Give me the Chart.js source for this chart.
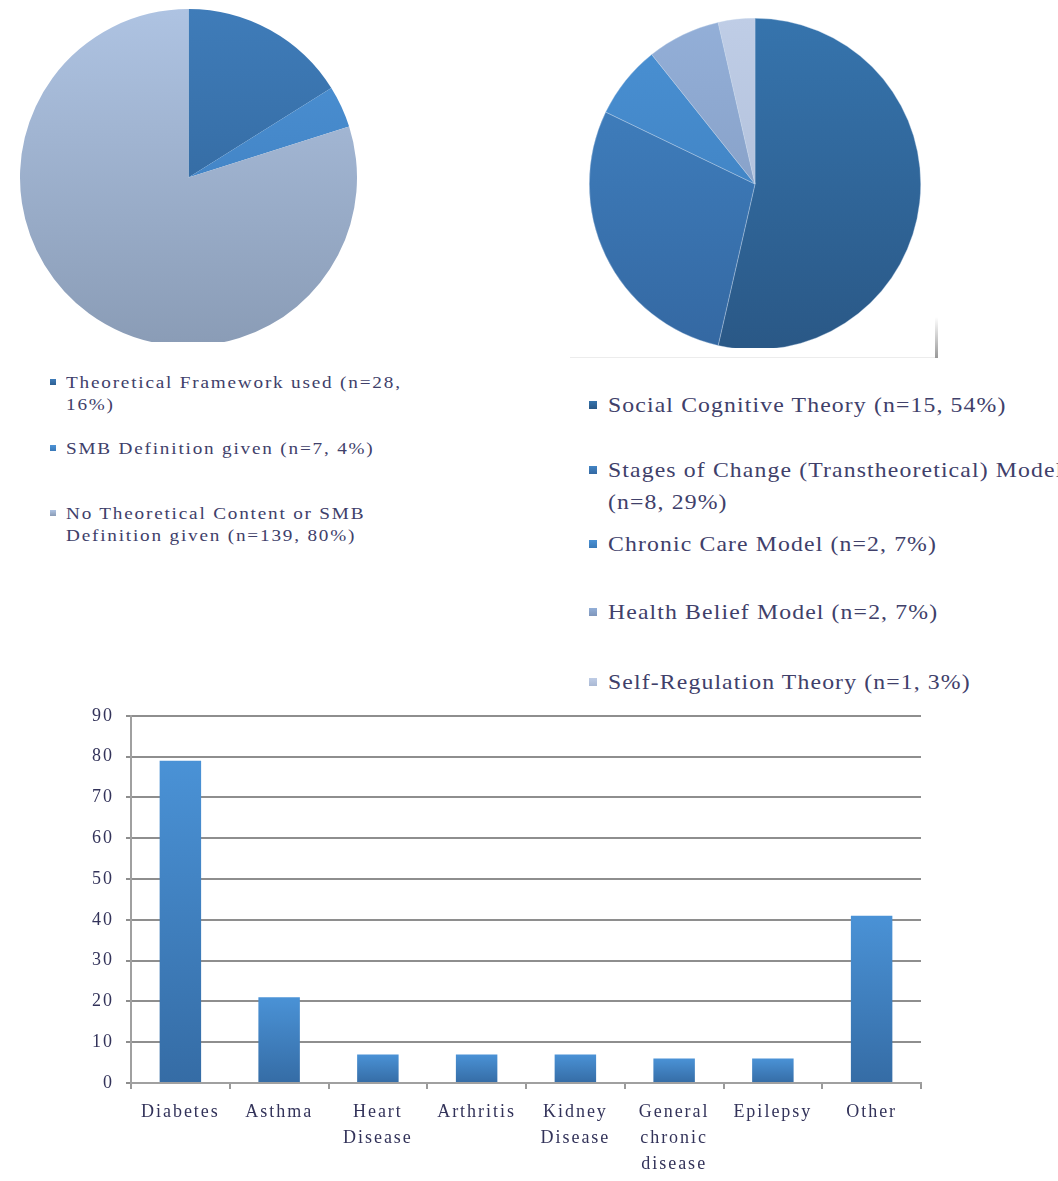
<!DOCTYPE html>
<html>
<head>
<meta charset="utf-8">
<script src="https://cdn.jsdelivr.net/npm/chart.js@4.4.1/dist/chart.umd.min.js"></script>
<style>
  html, body { margin: 0; padding: 0; background: #fff; width: 1058px; height: 1181px; overflow: hidden; }
  .box { position: absolute; }
  .legend { position: absolute; font-family: "Liberation Serif", "Times New Roman", serif; color: #40406a; }
  .legend .item { position: absolute; white-space: nowrap; transform-origin: left center; }
  .legend .sw { position: absolute; left: 0; }
  .edge { position: absolute; left: 935px; top: 317px; width: 3px; height: 41px; background: linear-gradient(to bottom, #fff, #999); }
  .edge2 { position: absolute; left: 570px; top: 357px; width: 367px; height: 1px; background: #ececec; }
</style>
</head>
<body>
<div class="box" style="left:20px;top:9px;width:337px;height:333px;overflow:hidden"><canvas id="pie1"></canvas></div>
<div class="box" style="left:589px;top:18px;width:332px;height:330px;overflow:hidden"><canvas id="pie2"></canvas></div>
<div class="edge2"></div>
<div class="edge"></div>
<div class="legend" id="legend1" style="left:50px;top:0"></div>
<div class="legend" id="legend2" style="left:589px;top:0"></div>
<div class="box" style="left:0;top:693px;width:1058px;height:488px"><canvas id="bars"></canvas></div>
<script>
// pie 1: theoretical content of studies
var pie1Labels = ['Theoretical Framework used (n=28, 16%)', 'SMB Definition given (n=7, 4%)', 'No Theoretical Content or SMB Definition given (n=139, 80%)'];
var pie1Values = [28, 7, 139];
var pie1Lines = [['Theoretical Framework used (n=28,', '16%)'], ['SMB Definition given (n=7, 4%)'], ['No Theoretical Content or SMB', 'Definition given (n=139, 80%)']];

// pie 2: theories used
var pie2Labels = ['Social Cognitive Theory (n=15, 54%)', 'Stages of Change (Transtheoretical) Model (n=8, 29%)', 'Chronic Care Model (n=2, 7%)', 'Health Belief Model (n=2, 7%)', 'Self-Regulation Theory (n=1, 3%)'];
var pie2Values = [15, 8, 2, 2, 1];
var pie2Lines = [['Social Cognitive Theory (n=15, 54%)'], ['Stages of Change (Transtheoretical) Model', '(n=8, 29%)'], ['Chronic Care Model (n=2, 7%)'], ['Health Belief Model (n=2, 7%)'], ['Self-Regulation Theory (n=1, 3%)']];

// bar chart: conditions
var conditions = [['Diabetes'], ['Asthma'], ['Heart', 'Disease'], ['Arthritis'], ['Kidney', 'Disease'], ['General', 'chronic', 'disease'], ['Epilepsy'], ['Other']];
var counts = [79, 21, 7, 7, 7, 6, 6, 41];

var pie1Colors = [['#3f7cb9', '#2d5f92'], ['#4d93d6', '#3a78b8'], ['#aec3e2', '#8a9cb6']];
var pie2Colors = [['#3674ad', '#2a5886'], ['#4284c4', '#3468a2'], ['#4a91d4', '#3a7ab8'], ['#93afd8', '#7f96bb'], ['#bfcde6', '#aab9d4']];

function grad(pairs) {
  return function (c) {
    var area = c.chart.chartArea;
    if (!area) return pairs[c.dataIndex][0];
    var g = c.chart.ctx.createLinearGradient(0, area.top, 0, area.bottom);
    g.addColorStop(0, pairs[c.dataIndex][0]);
    g.addColorStop(1, pairs[c.dataIndex][1]);
    return g;
  };
}

function pieOpts() {
  return {
    responsive: false,
    animation: false,
    layout: { padding: 0 },
    plugins: { legend: { display: false }, tooltip: { enabled: false } }
  };
}

var c1 = document.getElementById('pie1');
c1.width = 337; c1.height = 337;
new Chart(c1, {
  type: 'pie',
  data: { labels: pie1Labels, datasets: [{ data: pie1Values, backgroundColor: grad(pie1Colors), borderWidth: 0 }] },
  options: pieOpts()
});

var c2 = document.getElementById('pie2');
c2.width = 332; c2.height = 332;
new Chart(c2, {
  type: 'pie',
  data: { labels: pie2Labels, datasets: [{ data: pie2Values, backgroundColor: grad(pie2Colors), borderWidth: 0.6, borderColor: 'rgba(200,215,235,0.6)' }] },
  options: pieOpts()
});

// html legends
function buildLegend(el, lines, colors, tops, opt) {
  lines.forEach(function (ls, i) {
    var sw = document.createElement('div');
    sw.className = 'sw';
    sw.style.top = (tops[i] - opt.sw / 2 - 3) + 'px';
    sw.style.width = opt.sw + 'px';
    sw.style.height = opt.sw + 'px';
    sw.style.background = 'linear-gradient(' + colors[i][0] + ',' + colors[i][1] + ')';
    el.appendChild(sw);
    ls.forEach(function (t, j) {
      var d = document.createElement('div');
      d.className = 'item';
      d.textContent = t;
      d.style.left = opt.textX + 'px';
      d.style.top = (tops[i] + j * opt.lh - opt.size * 0.6) + 'px';
      d.style.fontSize = opt.size + 'px';
      d.style.letterSpacing = opt.ls + 'px';
      d.style.lineHeight = '1';
      d.style.transform = 'scaleX(' + opt.sx + ')';
      el.appendChild(d);
    });
  });
}
buildLegend(document.getElementById('legend1'), pie1Lines, pie1Colors, [385, 451, 516], { sw: 6, textX: 16, size: 16, lh: 22, ls: 1.5, sx: 1.2 });
buildLegend(document.getElementById('legend2'), pie2Lines, pie2Colors, [408, 473, 547, 615, 685], { sw: 8, textX: 19, size: 21, lh: 32, ls: 1, sx: 1.13 });

// bar chart
var serif = { family: '"Liberation Serif", "Times New Roman", serif', size: 18, lineHeight: 1.45 };
var spacing = {
  id: 'spacing',
  beforeLayout: function (chart) { chart.ctx.letterSpacing = '2px'; },
  beforeDraw: function (chart) { chart.ctx.letterSpacing = '2px'; }
};
var cb = document.getElementById('bars');
cb.width = 1058; cb.height = 488;
new Chart(cb, {
  type: 'bar',
  data: {
    labels: conditions,
    datasets: [{
      data: counts,
      backgroundColor: function (c) {
        var y = c.chart.scales.y;
        if (!c.chart.chartArea || !y) return '#4288cc';
        var top = y.getPixelForValue(c.raw), base = y.getPixelForValue(0);
        var g = c.chart.ctx.createLinearGradient(0, top, 0, base);
        g.addColorStop(0, '#4a92d6');
        g.addColorStop(1, '#356ca5');
        return g;
      },
      barPercentage: 0.42,
      categoryPercentage: 1
    }]
  },
  plugins: [spacing],
  options: {
    responsive: false,
    animation: false,
    layout: { padding: { top: 2, right: 137, left: 0, bottom: 0 } },
    plugins: { legend: { display: false }, tooltip: { enabled: false } },
    scales: {
      x: {
        offset: true,
        grid: { offset: true, drawOnChartArea: false, color: '#9a9a9a', lineWidth: 2, tickLength: 6 },
        border: { color: '#a0a0a0', width: 2 },
        ticks: { font: serif, color: '#33335a', maxRotation: 0, autoSkip: false, padding: 10 },
        afterFit: function (s) { s.height = 98; }
      },
      y: {
        min: 0, max: 90,
        grid: { color: '#8e8e8e', lineWidth: 2, tickLength: 5 },
        border: { color: '#a0a0a0', width: 2 },
        ticks: { stepSize: 10, font: { family: serif.family, size: 18 }, color: '#33335a', padding: 12 },
        afterFit: function (s) { s.width = 131; }
      }
    }
  }
});
</script>
</body>
</html>
